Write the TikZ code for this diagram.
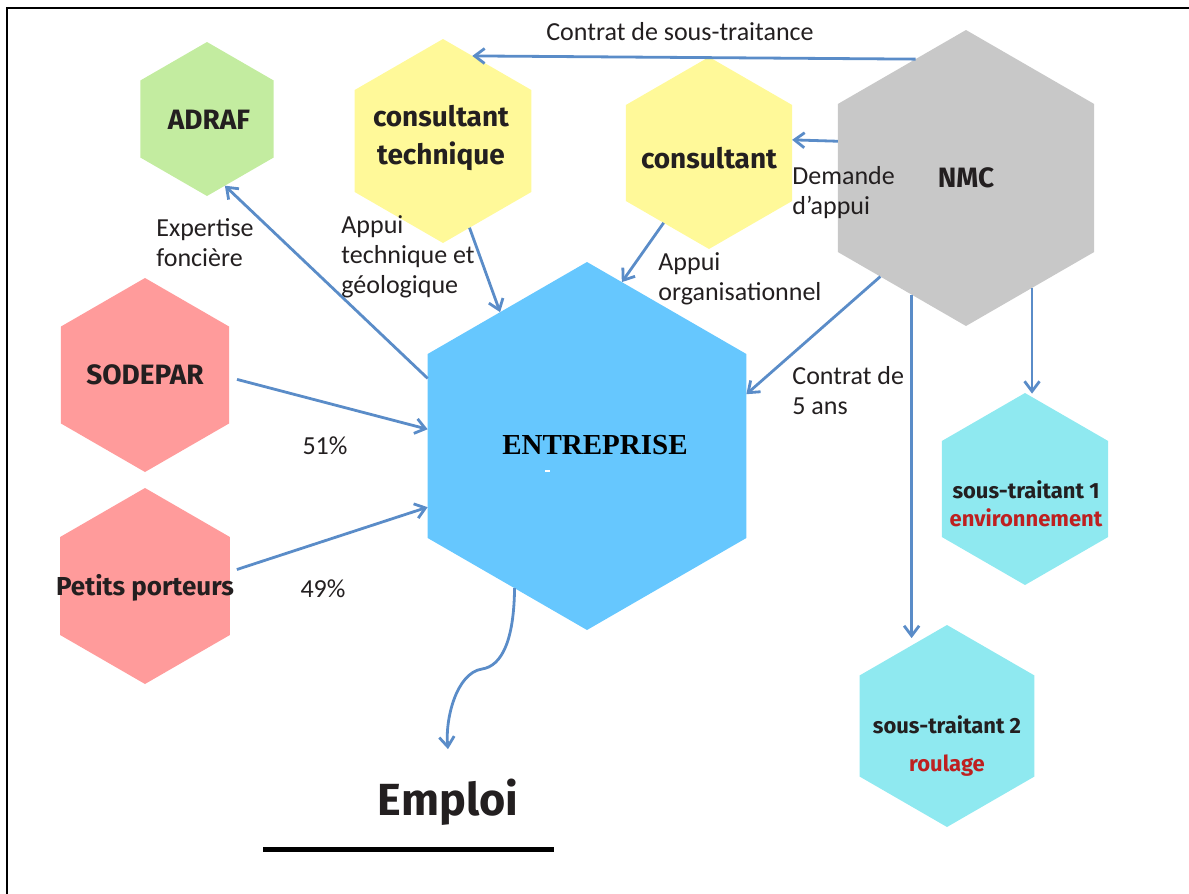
\documentclass[tikz,border=0pt]{standalone}
\usepackage{fontspec}
\setmainfont{Carlito}
\newfontfamily\hexfont{Fira Sans}
\newfontfamily\entfont{Liberation Serif}
\usetikzlibrary{shapes.geometric,arrows.meta}
\definecolor{cgreen}{RGB}{195,236,160}
\definecolor{cyellow}{RGB}{255,249,153}
\definecolor{cgray}{RGB}{200,200,200}
\definecolor{cblue}{RGB}{102,199,254}
\definecolor{cpink}{RGB}{255,155,155}
\definecolor{ccyan}{RGB}{143,233,240}
\definecolor{carrow}{RGB}{90,140,200}
\definecolor{cred}{RGB}{190,32,32}
\definecolor{ctext}{RGB}{35,31,32}
\begin{document}
\begin{tikzpicture}[x=0.5pt,y=-0.5pt,
  hexa/.style={regular polygon, regular polygon sides=6, shape border rotate=30,
    draw=none, inner sep=0pt, outer sep=0pt, minimum size=#1},
  hexlab/.style={font=\hexfont\bfseries\fontsize{14}{19}\selectfont, text=ctext,
    inner sep=0pt, align=center},
  smalllab/.style={font=\hexfont\bfseries\fontsize{11}{14}\selectfont, text=ctext,
    inner sep=0pt, align=center},
  ann/.style={font=\fontsize{13}{15}\selectfont, text=ctext, inner sep=0pt, align=left},
  arr/.style={draw=carrow, line width=1.4pt, -{Straight Barb[length=5pt,width=7.5pt]}}
]
\useasboundingbox (0,0) rectangle (1189,894);
% frame
\draw[line width=1.25pt] (7,894) -- (7,8) -- (1189,8);

% hexagons
\node[hexa=77pt, fill=cgreen] (adraf) at (207,119) {};
\node[hexa=102pt, fill=cyellow] (ctech) at (443,141) {};
\node[hexa=96pt, fill=cyellow] (cons) at (709,153) {};
\node[hexa=148pt, fill=cgray] (nmc) at (966,178) {};
\node[hexa=184pt, fill=cblue] (ent) at (587,446) {};
\node[hexa=97pt, fill=cpink] (sod) at (145,375) {};
\node[hexa=98pt, fill=cpink] (pp) at (145,586) {};
\node[hexa=96pt, fill=ccyan] (st1) at (1025,489) {};
\node[hexa=101pt, fill=ccyan] (st2) at (947,726) {};

% hexagon labels
\node[hexlab] (adraf-t) at (209,120) {ADRAF};
\node[hexlab] (ctech-t) at (441,138) {consultant\\technique};
\node[hexlab] (cons-t) at (709,158) {consultant};
\node[hexlab] (nmc-t) at (966,178) {NMC};
\node[inner sep=0pt, font=\entfont\bfseries\fontsize{14.5}{17}\selectfont, text=black] (ent-t) at (595,445) {ENTREPRISE};
\draw[white, line width=1pt] (545,471) -- (550,471);
\node[hexlab] (sod-t) at (145,375) {SODEPAR};
\node[hexlab, font=\hexfont\bfseries\fontsize{13}{17}\selectfont] (pp-t) at (145,588) {Petits porteurs};
\node[smalllab] (st1-t) at (1026,504) {sous-traitant 1\\\textcolor{cred}{environnement}};
\node[smalllab, font=\hexfont\bfseries\fontsize{11}{19}\selectfont] (st2-t) at (947,746) {sous-traitant 2\\\textcolor{cred}{roulage}};
\node[inner sep=0pt, anchor=base, font=\hexfont\bfseries\fontsize{22.5}{27}\selectfont, text=ctext] (emploi) at (448,815) {Emploi};
\draw[line width=2.5pt] (263,849) -- (554,849);

% connector labels
\node[ann, anchor=base] (l-sst) at (680,40) {Contrat de sous-traitance};
\node[ann, anchor=north west] (l-exp) at (156,215) {\strut Expertise\\\strut foncière};
\node[ann, anchor=north west] (l-tech) at (341,212) {\strut Appui\\\strut technique et\\\strut géologique};
\node[ann, anchor=north west] (l-dem) at (792,163) {\strut Demande\\\strut d’appui};
\node[ann, anchor=north west] (l-org) at (658,249) {\strut Appui\\\strut organisationnel};
\node[ann, anchor=north west] (l-5) at (792,363) {\strut Contrat de\\\strut 5 ans};
\node[ann, anchor=base] (l-51) at (325,454) {51\%};
\node[ann, anchor=base] (l-49) at (323,597) {49\%};

% connectors
\draw[arr] (nmc.113) -- (ctech.71);
\draw[arr] (ent.157) -- (adraf.285);
\draw[arr] (ctech.287) -- (ent.123);
\draw[arr] (cons.237) -- (ent.78);
\draw[arr] (nmc.164) -- (cons.9);
\draw[arr] (nmc.229) -- (ent.18);
\draw[arr] (nmc.245) -- ([yshift=3pt]nmc.245 |- st2.112);
\draw[arr] (nmc.301) -- ([yshift=2pt]nmc.301 |- st1.85);
\draw[arr] ([xshift=4pt]sod.-3) -- (ent.174);
\draw[arr] ([xshift=3.5pt]pp.11) -- (ent.201);
\draw[arr] (ent.243) .. controls (514,640) and (502,666) .. (482,669)
  .. controls (456,673) and (445,720) .. ([yshift=14.5pt]emploi.north);
\end{tikzpicture}
\end{document}
